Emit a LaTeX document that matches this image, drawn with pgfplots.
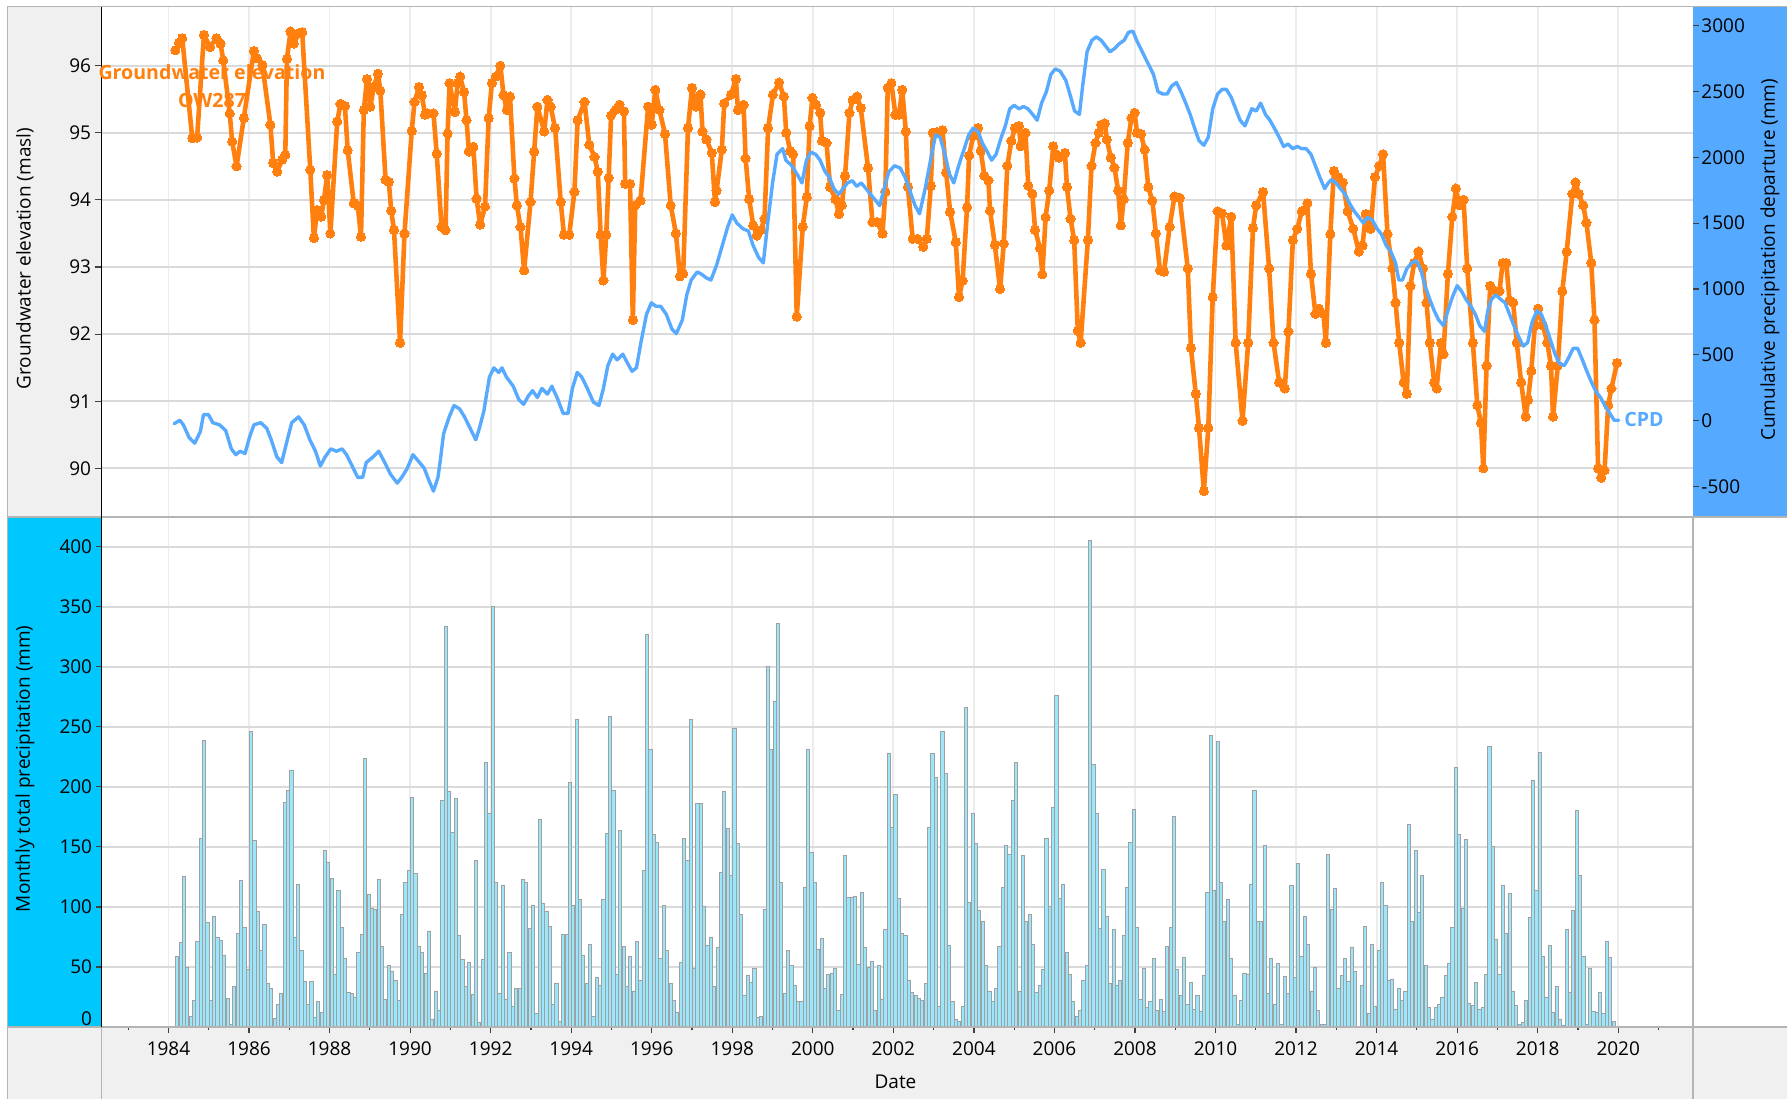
\documentclass[border=0pt]{standalone}
\usepackage{fontspec}
\setmainfont{Open Sans}
\usepackage{pgfplots}
\pgfplotsset{compat=1.18}
\definecolor{orangeC}{RGB}{255,128,14}
\definecolor{cpdC}{RGB}{88,170,255}
\definecolor{blueBox}{RGB}{85,170,255}
\definecolor{cyanBox}{RGB}{0,200,255}
\definecolor{grayBox}{RGB}{240,240,240}
\definecolor{barF}{RGB}{155,230,250}
\definecolor{barE}{RGB}{160,160,160}
\definecolor{gridH}{RGB}{218,218,218}
\definecolor{gridV}{RGB}{236,236,236}
\definecolor{frameC}{RGB}{180,180,180}
\newcommand{\tf}{\fontsize{9.5}{11}\selectfont}
\begin{document}
\begin{tikzpicture}[x=1pt,y=1pt]
\useasboundingbox (0,0) rectangle (895.5,549.5);
\fill[white] (0,0) rectangle (895.5,549.5);
\fill[grayBox] (3.75,291.15) rectangle (50.75,546.15);
\fill[cyanBox] (3.75,36) rectangle (50.75,291.15);
\fill[blueBox] (846.5,291.15) rectangle (893.5,546.15);
\fill[grayBox] (3.75,0) rectangle (893.5,36);

% ---------- top panel: groundwater ----------
\begin{axis}[at={(50.75pt,291.15pt)}, anchor=south west, scale only axis,
  width=795.75pt, height=255pt,
  xmin=1982.336, xmax=2021.857, ymin=89.279, ymax=96.879,
  axis line style={draw=none},
  xtick={1984,1986,...,2020}, xticklabels={}, xtick style={draw=none},
  ytick={90,91,...,96}, ytick pos=left, tick align=outside, major tick length=3.5pt,
  ytick style={color=black!75, line width=0.6pt},
  xmajorgrids, ymajorgrids,
  x grid style={gridV, line width=0.9pt}, y grid style={gridH, line width=0.9pt},
  yticklabel style={font=\tf, inner xsep=1.5pt},
  /pgf/number format/assume math mode=true]
\addplot[orangeC, line width=2.3pt, line join=round, line cap=round, mark=*, mark size=2.3pt, mark options={fill=orangeC, draw=orangeC, line width=0pt}] coordinates {
(1984.17,96.23)(1984.26,96.34)(1984.34,96.41)(1984.59,94.92)(1984.71,94.93)(1984.88,96.46)
(1985.03,96.28)(1985.19,96.41)(1985.29,96.33)(1985.36,96.08)(1985.52,95.29)(1985.58,94.87)
(1985.69,94.50)(1985.87,95.22)(1986.12,96.22)(1986.20,96.11)(1986.33,96.01)(1986.53,95.12)
(1986.60,94.55)(1986.70,94.42)(1986.82,94.60)(1986.90,94.67)(1986.94,96.10)(1987.03,96.51)
(1987.11,96.33)(1987.23,96.48)(1987.32,96.50)(1987.52,94.45)(1987.61,93.43)(1987.69,93.85)
(1987.79,93.75)(1987.86,94.00)(1987.94,94.37)(1988.02,93.50)(1988.19,95.17)(1988.27,95.43)
(1988.38,95.40)(1988.45,94.74)(1988.60,93.95)(1988.70,93.91)(1988.78,93.45)(1988.85,95.34)
(1988.93,95.80)(1989.01,95.39)(1989.10,95.69)(1989.20,95.88)(1989.26,95.63)(1989.39,94.30)
(1989.47,94.27)(1989.53,93.84)(1989.60,93.55)(1989.75,91.87)(1989.86,93.50)(1990.04,95.03)
(1990.11,95.46)(1990.22,95.68)(1990.29,95.56)(1990.37,95.27)(1990.44,95.29)(1990.58,95.29)
(1990.66,94.69)(1990.78,93.60)(1990.88,93.55)(1990.93,94.99)(1990.98,95.74)(1991.11,95.31)
(1991.18,95.74)(1991.24,95.84)(1991.34,95.61)(1991.40,95.19)(1991.46,94.72)(1991.57,94.79)
(1991.65,94.02)(1991.74,93.63)(1991.86,93.90)(1991.95,95.22)(1992.03,95.74)(1992.13,95.84)
(1992.24,96.00)(1992.32,95.56)(1992.40,95.34)(1992.48,95.54)(1992.59,94.32)(1992.65,93.92)
(1992.74,93.60)(1992.83,92.95)(1992.99,93.97)(1993.08,94.72)(1993.16,95.39)(1993.33,95.02)
(1993.41,95.49)(1993.49,95.39)(1993.60,95.07)(1993.74,93.97)(1993.82,93.48)(1993.95,93.48)
(1994.08,94.12)(1994.16,95.19)(1994.33,95.46)(1994.45,94.82)(1994.58,94.64)(1994.66,94.42)
(1994.73,93.48)(1994.80,92.80)(1994.87,93.48)(1994.93,94.33)(1994.99,95.26)(1995.10,95.34)
(1995.20,95.42)(1995.31,95.32)(1995.34,94.24)(1995.46,94.24)(1995.53,92.21)(1995.59,93.92)
(1995.72,93.99)(1995.91,95.39)(1996.00,95.12)(1996.09,95.64)(1996.19,95.34)(1996.33,94.98)
(1996.47,93.92)(1996.60,93.50)(1996.70,92.86)(1996.78,92.90)(1996.90,95.07)(1997.00,95.67)
(1997.11,95.39)(1997.21,95.57)(1997.26,95.02)(1997.36,94.90)(1997.49,94.70)(1997.57,93.97)
(1997.61,94.14)(1997.74,94.75)(1997.80,95.44)(1997.97,95.57)(1998.09,95.80)(1998.14,95.34)
(1998.28,95.42)(1998.33,94.62)(1998.42,94.01)(1998.52,93.62)(1998.61,93.47)(1998.71,93.55)
(1998.80,93.72)(1998.89,95.07)(1999.01,95.57)(1999.16,95.75)(1999.28,95.54)(1999.34,95.00)
(1999.44,94.73)(1999.51,94.68)(1999.60,92.26)(1999.75,93.60)(1999.85,94.04)(1999.92,95.10)
(1999.99,95.52)(2000.08,95.42)(2000.18,95.30)(2000.23,94.88)(2000.34,94.85)(2000.43,94.19)
(2000.56,94.01)(2000.65,93.79)(2000.72,93.92)(2000.80,94.36)(2000.91,95.30)(2000.99,95.49)
(2001.10,95.54)(2001.19,95.37)(2001.37,94.48)(2001.48,93.67)(2001.60,93.67)(2001.73,93.50)
(2001.80,94.12)(2001.86,95.67)(2001.95,95.74)(2002.05,95.27)(2002.14,95.27)(2002.22,95.64)
(2002.31,95.02)(2002.36,94.19)(2002.48,93.42)(2002.60,93.42)(2002.74,93.30)(2002.83,93.42)
(2002.93,94.21)(2002.98,95.00)(2003.08,95.01)(2003.22,95.04)(2003.31,94.41)(2003.41,93.82)
(2003.55,93.37)(2003.63,92.55)(2003.72,92.80)(2003.83,93.89)(2003.88,94.66)(2003.98,94.95)
(2004.10,95.07)(2004.17,94.73)(2004.26,94.36)(2004.36,94.29)(2004.40,93.84)(2004.52,93.33)
(2004.65,92.67)(2004.74,93.35)(2004.83,94.51)(2004.93,94.88)(2005.02,95.07)(2005.12,95.10)
(2005.16,94.80)(2005.28,95.00)(2005.35,94.21)(2005.45,94.09)(2005.52,93.55)(2005.64,93.28)
(2005.70,92.89)(2005.78,93.74)(2005.87,94.14)(2005.97,94.80)(2006.04,94.68)(2006.11,94.63)
(2006.26,94.70)(2006.31,94.19)(2006.40,93.72)(2006.49,93.40)(2006.58,92.05)(2006.65,91.87)
(2006.83,93.40)(2006.92,94.51)(2007.02,94.85)(2007.10,95.00)(2007.16,95.12)(2007.25,95.14)
(2007.30,94.90)(2007.40,94.63)(2007.49,94.48)(2007.58,94.14)(2007.65,93.62)(2007.72,94.01)
(2007.82,94.85)(2007.91,95.22)(2007.99,95.30)(2008.05,95.00)(2008.15,94.98)(2008.24,94.75)
(2008.33,94.19)(2008.43,93.99)(2008.52,93.50)(2008.62,92.95)(2008.72,92.93)(2008.86,93.60)
(2008.98,94.05)(2009.11,94.03)(2009.31,92.98)(2009.39,91.79)(2009.51,91.11)(2009.59,90.60)
(2009.71,89.66)(2009.82,90.60)(2009.93,92.55)(2010.05,93.83)(2010.16,93.80)(2010.27,93.32)
(2010.39,93.75)(2010.50,91.87)(2010.67,90.71)(2010.81,91.87)(2010.93,93.58)(2011.01,93.92)
(2011.18,94.12)(2011.33,92.98)(2011.44,91.87)(2011.58,91.28)(2011.72,91.19)(2011.81,92.04)
(2011.92,93.40)(2012.03,93.57)(2012.14,93.83)(2012.28,93.95)(2012.37,92.90)(2012.48,92.30)
(2012.57,92.38)(2012.68,92.30)(2012.74,91.87)(2012.85,93.49)(2012.94,94.43)(2013.05,94.34)
(2013.16,94.26)(2013.28,93.83)(2013.42,93.57)(2013.56,93.23)(2013.65,93.32)(2013.73,93.79)
(2013.85,93.57)(2013.96,94.34)(2014.07,94.51)(2014.16,94.68)(2014.27,93.49)(2014.39,92.98)
(2014.47,92.47)(2014.56,91.87)(2014.67,91.28)(2014.75,91.11)(2014.84,92.72)(2014.93,93.06)
(2015.04,93.23)(2015.15,92.98)(2015.24,92.47)(2015.32,91.87)(2015.43,91.28)(2015.49,91.19)
(2015.60,91.87)(2015.66,91.70)(2015.77,92.90)(2015.88,93.75)(2015.97,94.17)(2016.05,93.92)
(2016.16,94.00)(2016.25,92.98)(2016.39,91.87)(2016.50,90.94)(2016.59,90.68)(2016.65,90.00)
(2016.73,91.53)(2016.82,92.72)(2016.96,92.64)(2017.05,92.64)(2017.13,93.06)(2017.22,93.06)
(2017.30,92.50)(2017.39,92.47)(2017.48,91.87)(2017.59,91.28)(2017.70,90.77)(2017.76,91.02)
(2017.84,91.45)(2017.93,92.13)(2018.01,92.38)(2018.13,92.13)(2018.24,91.87)(2018.33,91.53)
(2018.38,90.77)(2018.50,91.53)(2018.61,92.64)(2018.72,93.23)(2018.86,94.09)(2018.94,94.26)
(2019.02,94.09)(2019.13,93.92)(2019.21,93.66)(2019.33,93.06)(2019.41,92.21)(2019.50,90.00)
(2019.58,89.86)(2019.66,89.97)(2019.75,90.94)(2019.83,91.19)(2019.97,91.57)
};
\end{axis}

% ---------- top panel: CPD (right axis) ----------
\begin{axis}[at={(50.75pt,291.15pt)}, anchor=south west, scale only axis,
  width=795.75pt, height=255pt,
  xmin=1982.336, xmax=2021.857, ymin=-729, ymax=3143,
  axis line style={draw=none}, xtick=\empty,
  ytick={-500,0,500,1000,1500,2000,2500,3000},
  yticklabels={-500,0,500,1000,1500,2000,2500,3000},
  ytick pos=right, tick align=outside, major tick length=3pt,
  ytick style={color=black!75, line width=0.6pt},
  yticklabel style={font=\tf, inner xsep=1pt}]
\addplot[cpdC, line width=1.7pt, line join=round, line cap=round] coordinates {
(1984.14,-23)(1984.28,3)(1984.37,-32)(1984.51,-127)(1984.65,-171)(1984.79,-84)(1984.87,46)
(1984.99,46)(1985.10,-15)(1985.27,-32)(1985.42,-75)(1985.56,-214)(1985.67,-258)(1985.78,-232)
(1985.90,-249)(1986.01,-127)(1986.12,-32)(1986.29,-15)(1986.44,-58)(1986.55,-145)(1986.69,-275)
(1986.81,-318)(1986.95,-145)(1987.06,-15)(1987.23,29)(1987.37,-32)(1987.51,-145)(1987.65,-232)
(1987.77,-344)(1987.89,-275)(1988.03,-214)(1988.17,-232)(1988.31,-214)(1988.42,-258)(1988.56,-344)
(1988.70,-431)(1988.82,-431)(1988.91,-318)(1989.08,-275)(1989.22,-232)(1989.37,-318)(1989.51,-405)
(1989.68,-474)(1989.79,-431)(1989.93,-361)(1990.07,-258)(1990.21,-309)(1990.35,-361)(1990.46,-448)
(1990.58,-535)(1990.69,-431)(1990.75,-301)(1990.83,-101)(1990.97,29)(1991.09,115)(1991.23,89)
(1991.35,29)(1991.49,-58)(1991.63,-145)(1991.72,-58)(1991.83,72)(1991.97,332)(1992.08,401)
(1992.20,366)(1992.28,401)(1992.39,332)(1992.56,262)(1992.70,159)(1992.82,124)(1992.93,185)
(1993.04,228)(1993.16,176)(1993.27,245)(1993.41,202)(1993.52,262)(1993.66,167)(1993.80,55)
(1993.92,55)(1994.03,245)(1994.15,366)(1994.26,332)(1994.40,245)(1994.55,141)(1994.69,115)
(1994.80,245)(1994.91,418)(1995.03,505)(1995.14,462)(1995.28,505)(1995.40,436)(1995.51,375)
(1995.62,401)(1995.73,592)(1995.87,808)(1995.99,895)(1996.10,869)(1996.22,869)(1996.36,808)
(1996.50,696)(1996.61,661)(1996.76,765)(1996.87,956)(1996.98,1068)(1997.13,1129)(1997.24,1111)
(1997.35,1085)(1997.47,1068)(1997.61,1181)(1997.75,1328)(1997.89,1475)(1998.00,1562)(1998.11,1501)
(1998.26,1458)(1998.40,1440)(1998.51,1336)(1998.65,1241)(1998.77,1198)(1998.88,1501)(1999.00,1805)
(1999.11,2022)(1999.25,2065)(1999.33,1978)(1999.48,1935)(1999.62,1866)(1999.73,1805)(1999.84,1978)
(1999.95,2039)(2000.07,2022)(2000.18,1978)(2000.30,1892)(2000.41,1848)(2000.52,1762)(2000.64,1719)
(2000.75,1762)(2000.86,1805)(2000.98,1822)(2001.09,1779)(2001.20,1805)(2001.32,1762)(2001.43,1719)
(2001.55,1675)(2001.66,1632)(2001.77,1762)(2001.89,1892)(2002.03,1935)(2002.17,1918)(2002.29,1848)
(2002.42,1736)(2002.54,1632)(2002.65,1571)(2002.79,1762)(2002.88,1909)(2002.96,2039)(2003.05,2169)
(2003.16,2152)(2003.28,2022)(2003.39,1874)(2003.50,1805)(2003.62,1935)(2003.76,2065)(2003.87,2169)
(2003.98,2221)(2004.10,2195)(2004.21,2108)(2004.32,2048)(2004.44,1978)(2004.55,2022)(2004.66,2134)
(2004.78,2238)(2004.89,2368)(2005.00,2394)(2005.12,2368)(2005.23,2385)(2005.34,2368)(2005.46,2325)
(2005.57,2281)(2005.68,2411)(2005.80,2498)(2005.91,2628)(2006.02,2671)(2006.14,2654)(2006.28,2585)
(2006.39,2472)(2006.50,2351)(2006.62,2325)(2006.70,2541)(2006.81,2801)(2006.93,2888)(2007.04,2914)
(2007.16,2888)(2007.27,2844)(2007.38,2801)(2007.50,2827)(2007.61,2862)(2007.73,2888)(2007.84,2949)
(2007.95,2957)(2008.04,2888)(2008.18,2801)(2008.32,2714)(2008.46,2628)(2008.57,2498)(2008.69,2480)
(2008.80,2480)(2008.91,2541)(2009.03,2567)(2009.14,2498)(2009.26,2411)(2009.37,2325)(2009.48,2221)
(2009.59,2126)(2009.71,2091)(2009.82,2152)(2009.93,2368)(2010.05,2480)(2010.16,2515)(2010.27,2515)
(2010.39,2455)(2010.50,2368)(2010.61,2281)(2010.73,2238)(2010.81,2299)(2010.90,2368)(2011.01,2351)
(2011.12,2411)(2011.24,2325)(2011.35,2281)(2011.46,2221)(2011.58,2152)(2011.69,2082)(2011.80,2100)
(2011.92,2065)(2012.03,2082)(2012.14,2065)(2012.25,2065)(2012.37,2022)(2012.48,1935)(2012.59,1848)
(2012.71,1762)(2012.80,1805)(2012.88,1831)(2012.99,1805)(2013.10,1762)(2013.22,1719)(2013.33,1649)
(2013.45,1588)(2013.56,1545)(2013.67,1501)(2013.78,1545)(2013.90,1519)(2014.01,1458)(2014.12,1415)
(2014.24,1328)(2014.35,1285)(2014.47,1198)(2014.55,1068)(2014.64,1068)(2014.75,1154)(2014.87,1198)
(2014.98,1215)(2015.09,1154)(2015.20,1025)(2015.32,921)(2015.43,834)(2015.54,765)(2015.66,722)
(2015.77,834)(2015.88,938)(2016.00,1025)(2016.11,982)(2016.22,921)(2016.34,869)(2016.45,808)
(2016.56,722)(2016.68,678)(2016.76,834)(2016.85,921)(2016.96,956)(2017.08,921)(2017.19,895)
(2017.30,808)(2017.41,722)(2017.53,635)(2017.64,566)(2017.75,592)(2017.86,748)(2017.98,834)
(2018.09,808)(2018.20,722)(2018.32,609)(2018.43,505)(2018.54,436)(2018.66,418)(2018.77,479)
(2018.88,549)(2018.99,549)(2019.11,462)(2019.22,375)(2019.34,289)(2019.45,219)(2019.56,176)
(2019.67,115)(2019.79,55)(2019.90,3)(2020.01,3)
};
\end{axis}

% ---------- bottom panel: monthly precipitation (x = month index from Mar 1984) ----------
\begin{axis}[at={(50.75pt,36pt)}, anchor=south west, scale only axis,
  width=795.75pt, height=255.15pt,
  xmin=-22.58, xmax=451.67, ymin=0, ymax=425,
  axis line style={draw=none},
  xtick={-2.62,21.38,...,429.4},
  xticklabels={1984,1986,1988,1990,1992,1994,1996,1998,2000,2002,2004,2006,2008,2010,2012,2014,2016,2018,2020},
  minor xtick={-14.62,9.38,...,441.4},
  ytick={0,50,...,400},
  yticklabels={\raisebox{8pt}{0},50,100,150,200,250,300,350,400},
  xtick pos=bottom, ytick pos=left, tick align=outside,
  major tick length=3pt, minor tick length=1.5pt,
  tick style={color=black!75, line width=0.6pt},
  xmajorgrids, ymajorgrids,
  x grid style={gridV, line width=0.9pt}, y grid style={gridH, line width=0.9pt},
  xticklabel style={font=\tf, yshift=-1pt},
  yticklabel style={font=\tf, inner xsep=1.5pt}]
\addplot[ybar, bar width=1.6pt, fill=barF, draw=barE, line width=0.45pt]
  table[header=false, row sep=\\, x expr=\coordindex, y index=0] {
59\\70.5\\125.5\\50\\9\\22\\71\\157\\239\\87\\22\\92\\75\\72\\60\\24\\2\\34\\78\\122\\83\\48\\246\\155\\96\\64\\
85\\36\\32\\7\\19\\28\\187\\197\\214\\75\\119\\64\\38\\19\\38\\8\\21\\12\\147\\137\\124\\44\\114\\83\\57\\29\\
28\\25\\62\\77\\224\\110\\99\\98\\123\\67\\23\\51\\46\\39\\22\\94\\120\\130\\191\\128\\67\\62\\45\\80\\6\\30\\
14\\189\\334\\196\\162\\190\\76\\56\\34\\54\\27\\139\\4\\56\\220\\178\\350\\120\\28\\118\\23\\62\\17\\32\\32\\123\\120\\82\\
101\\11\\173\\103\\96\\84\\19\\36\\5\\77\\77\\204\\101\\256\\106\\60\\36\\69\\9\\41\\35\\106\\161\\259\\197\\44\\
164\\67\\34\\59\\30\\71\\39\\130\\327\\231\\160\\154\\57\\101\\64\\36\\22\\12\\54\\157\\139\\256\\49\\186\\186\\100\\
68\\75\\34\\66\\129\\196\\165\\126\\249\\153\\94\\26\\43\\37\\49\\8\\9\\98\\300\\231\\271\\336\\120\\28\\64\\51\\
35\\21\\21\\116\\231\\145\\120\\65\\74\\32\\44\\45\\49\\14\\27\\143\\108\\108\\109\\52\\112\\66\\50\\55\\14\\51\\23\\81\\228\\166\\194\\
107\\78\\76\\39\\29\\26\\24\\22\\36\\166\\228\\208\\17\\246\\211\\68\\21\\6\\5\\17\\266\\104\\178\\153\\97\\88\\
51\\30\\21\\32\\67\\116\\151\\144\\189\\220\\30\\143\\88\\94\\69\\29\\35\\48\\157\\100\\183\\276\\107\\119\\62\\44\\
21\\9\\14\\39\\51\\405\\219\\178\\82\\131\\92\\36\\81\\35\\39\\76\\116\\154\\181\\83\\23\\49\\16\\21\\57\\14\\
23\\13\\67\\83\\175\\48\\26\\58\\19\\37\\15\\26\\13\\43\\112\\243\\114\\238\\120\\88\\106\\57\\26\\2\\22\\45\\44\\119\\197\\88\\
88\\151\\28\\57\\19\\53\\2\\42\\28\\118\\41\\136\\59\\92\\69\\30\\50\\14\\2\\2\\144\\98\\115\\32\\43\\57\\
38\\66\\46\\0\\35\\84\\11\\69\\17\\64\\120\\101\\39\\40\\15\\32\\22\\30\\169\\88\\147\\95\\126\\51\\16\\6\\
16\\19\\25\\43\\53\\83\\216\\160\\99\\156\\20\\18\\37\\15\\16\\44\\234\\150\\73\\44\\118\\78\\111\\30\\18\\2\\
4\\22\\91\\205\\114\\229\\59\\25\\68\\12\\34\\6\\1\\81\\29\\97\\180\\126\\59\\2\\49\\13\\12\\29\\11\\71\\58\\5\\
};
\end{axis}

% ---------- frame lines ----------
\draw[frameC, line width=0.8pt] (3.75,0) -- (3.75,546.15) -- (893.5,546.15);
\draw[frameC, line width=0.8pt] (3.75,291.15) -- (893.5,291.15);
\draw[frameC, line width=0.8pt] (3.75,36) -- (893.5,36);
\draw[frameC, line width=0.8pt] (846.5,0) -- (846.5,291.15);
\draw[frameC, line width=0.8pt] (50.75,0) -- (50.75,36);
\draw[black, line width=0.6pt] (50.75,36) -- (50.75,546.15);

% ---------- texts ----------
\node[rotate=90, font=\tf] at (12.5,420.15) {Groundwater elevation (masl)};
\node[rotate=90, font=\tf] at (12.5,165.15) {Monthly total precipitation (mm)};
\node[rotate=90, font=\tf] at (885,419.6) {Cumulative precipitation departure (mm)};
\node[font=\tf] at (447.75,8.5) {Date};
\node[font=\fontsize{9.8}{14}\selectfont\bfseries, text=orangeC, align=center] at (106,506.5) {Groundwater elevation\\OW287};
\node[font=\fontsize{9.8}{12}\selectfont\bfseries, text=cpdC, anchor=west, inner xsep=0pt] at (812,339.5) {CPD};
\end{tikzpicture}
\end{document}
